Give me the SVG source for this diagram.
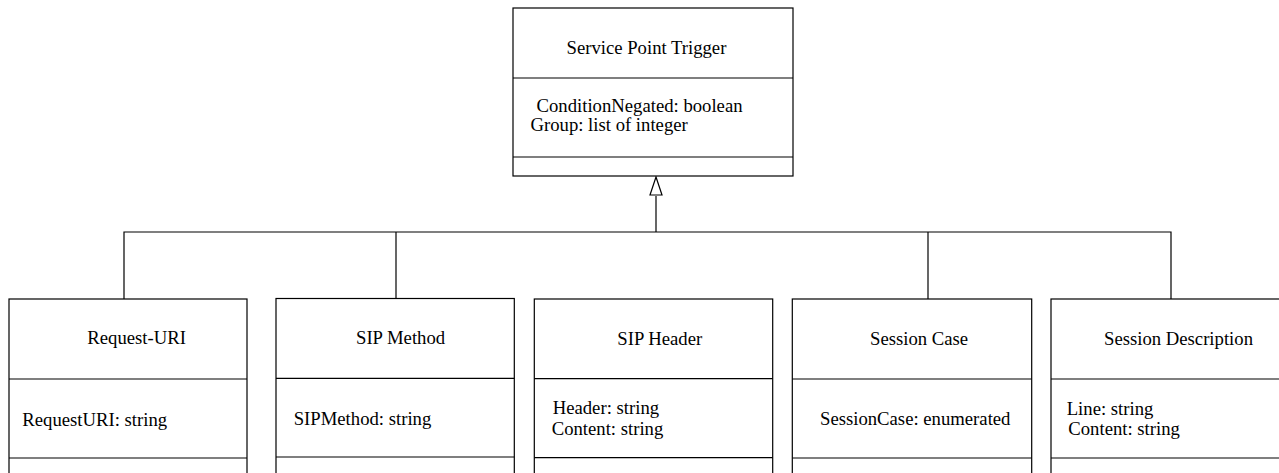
<svg xmlns="http://www.w3.org/2000/svg" width="1279" height="473" viewBox="0 0 1279 473">
<style>
.box{fill:#fff;stroke:#000;stroke-width:1.2}
.div{stroke:#000;stroke-width:1.2}
.conn{fill:none;stroke:#000;stroke-width:1.2}
.head{fill:#fff;stroke:#000;stroke-width:1.2}
text{font-family:"Liberation Serif","Times New Roman",serif;font-size:18.7px;fill:#000}
</style>
<g id="connectors">
<path class="conn" d="M656,232 V196"/>
<path class="head" d="M656,177 L650,195 L662,195 Z"/>
<path class="conn" d="M124,299 V232 H1171 V299"/>
<path class="conn" d="M396,299 V232"/>
<path class="conn" d="M928,299 V232"/>
</g>
<g id="service-point-trigger">
<rect class="box" x="513" y="8" width="280" height="168"/>
<line class="div" x1="513" y1="78" x2="793" y2="78"/>
<line class="div" x1="513" y1="157" x2="793" y2="157"/>
<text x="566.5" y="54">Service Point Trigger</text>
<text x="536.5" y="112">ConditionNegated: boolean</text>
<text x="530.5" y="131">Group: list of integer</text>
</g>
<g id="request-uri">
<rect class="box" x="9" y="299" width="238" height="250"/>
<line class="div" x1="9" y1="379" x2="247" y2="379"/>
<line class="div" x1="9" y1="458" x2="247" y2="458"/>
<text x="87.3" y="344.3">Request-URI</text>
<text x="22.3" y="426">RequestURI: string</text>
</g>
<g id="sip-method">
<rect class="box" x="276" y="298.5" width="238.3" height="250"/>
<line class="div" x1="276" y1="378.3" x2="514.3" y2="378.3"/>
<line class="div" x1="276" y1="457" x2="514.3" y2="457"/>
<text x="356" y="344.3">SIP Method</text>
<text x="293.7" y="424.5">SIPMethod: string</text>
</g>
<g id="sip-header">
<rect class="box" x="534.3" y="299" width="238.4" height="250"/>
<line class="div" x1="534.3" y1="378.7" x2="772.7" y2="378.7"/>
<line class="div" x1="534.3" y1="457.7" x2="772.7" y2="457.7"/>
<text x="617.3" y="345">SIP Header</text>
<text x="552.7" y="414.3">Header: string</text>
<text x="551.7" y="435.3">Content: string</text>
</g>
<g id="session-case">
<rect class="box" x="792.3" y="299" width="239.4" height="250"/>
<line class="div" x1="792.3" y1="379" x2="1031.7" y2="379"/>
<line class="div" x1="792.3" y1="458" x2="1031.7" y2="458"/>
<text x="870" y="345">Session Case</text>
<text x="820" y="424.7">SessionCase: enumerated</text>
</g>
<g id="session-description">
<rect class="box" x="1051" y="299" width="250" height="250"/>
<line class="div" x1="1051" y1="379" x2="1301" y2="379"/>
<line class="div" x1="1051" y1="458" x2="1301" y2="458"/>
<text x="1104" y="345">Session Description</text>
<text x="1066.7" y="414.7">Line: string</text>
<text x="1068.3" y="435.3">Content: string</text>
</g>
</svg>
